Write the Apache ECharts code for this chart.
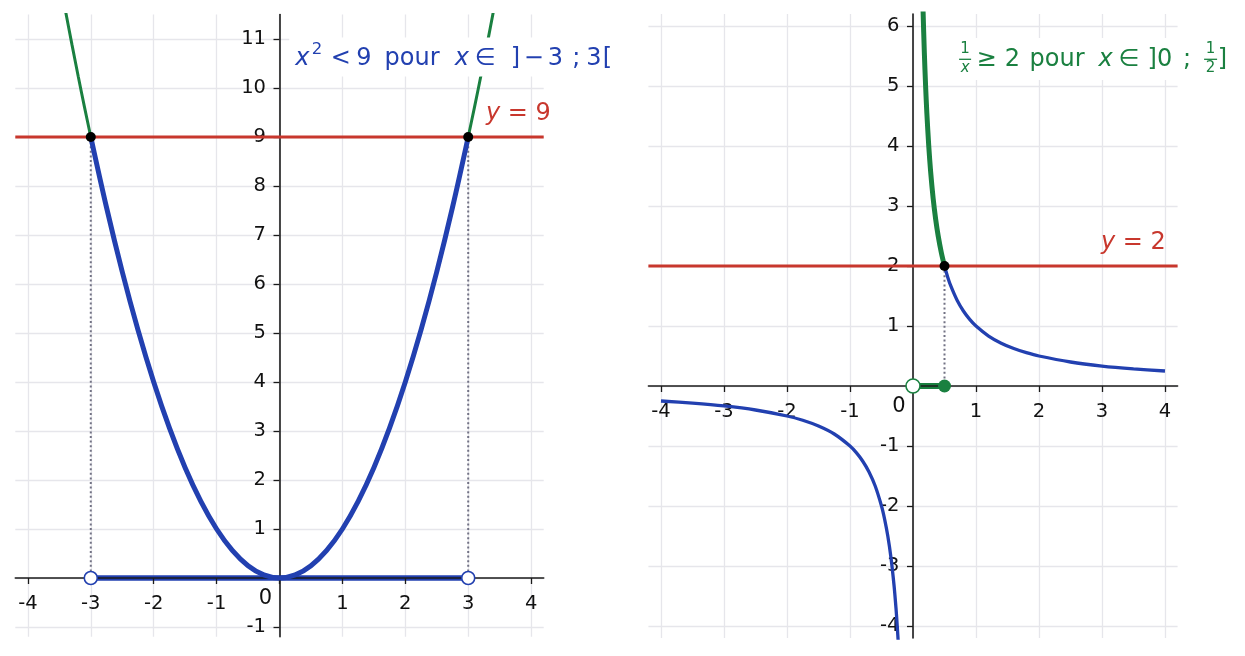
<!DOCTYPE html>
<html><head><meta charset="utf-8">
<script src="https://cdn.jsdelivr.net/npm/echarts@6/dist/echarts.min.js"></script>
<style>html,body{margin:0;padding:0;background:#fff}#c{width:1245px;height:656px}</style>
</head><body><div id="c"></div>
<script>
// ---------- data ----------
const leftXRange = [-4.2, 4.2];
const leftYRange = [-1.2, 11.5];
const rightXRange = [-4.2, 4.2];
const rightYRange = [-4.2, 6.2];

const leftXTicks = [-4, -3, -2, -1, 0, 1, 2, 3, 4];
const leftXLabels = [-4, -3, -2, -1, 1, 2, 3, 4];
const leftYTicks = [-1, 0, 1, 2, 3, 4, 5, 6, 7, 8, 9, 10, 11];
const leftYLabels = [-1, 1, 2, 3, 4, 5, 6, 7, 8, 9, 10, 11];
const rightXTicks = [-4, -3, -2, -1, 0, 1, 2, 3, 4];
const rightXLabels = [-4, -3, -2, -1, 1, 2, 3, 4];
const rightYTicks = [-4, -3, -2, -1, 0, 1, 2, 3, 4, 5, 6];
const rightYLabels = [-4, -3, -2, -1, 1, 2, 3, 4, 5, 6];

// left panel: y = x^2
const squareInX = [-3, -2.75, -2.5, -2.25, -2, -1.75, -1.5, -1.25, -1, -0.75, -0.5, -0.25, 0, 0.25, 0.5, 0.75, 1, 1.25, 1.5, 1.75, 2, 2.25, 2.5, 2.75, 3];
const squareInY = [9, 7.5625, 6.25, 5.0625, 4, 3.0625, 2.25, 1.5625, 1, 0.5625, 0.25, 0.0625, 0, 0.0625, 0.25, 0.5625, 1, 1.5625, 2.25, 3.0625, 4, 5.0625, 6.25, 7.5625, 9];
const squareOutLeftX = [-3.45, -3.4, -3.3, -3.2, -3.1, -3];
const squareOutLeftY = [11.9, 11.56, 10.89, 10.24, 9.61, 9];
const squareOutRightX = [3, 3.1, 3.2, 3.3, 3.4, 3.45];
const squareOutRightY = [9, 9.61, 10.24, 10.89, 11.56, 11.9];
const levelLeft = 9;
const boundsLeft = [-3, 3];

// right panel: y = 1/x
const invInX = [0.15, 0.16, 0.18, 0.2, 0.22, 0.25, 0.28, 0.32, 0.36, 0.4, 0.45, 0.5];
const invInY = [6.667, 6.25, 5.556, 5, 4.545, 4, 3.571, 3.125, 2.778, 2.5, 2.222, 2];
const invPosX = [0.5, 0.55, 0.6, 0.7, 0.8, 0.9, 1, 1.2, 1.4, 1.6, 1.8, 2, 2.5, 3, 3.5, 4];
const invPosY = [2, 1.818, 1.667, 1.429, 1.25, 1.111, 1, 0.833, 0.714, 0.625, 0.556, 0.5, 0.4, 0.333, 0.286, 0.25];
const invNegX = [-4, -3.5, -3, -2.5, -2, -1.75, -1.5, -1.25, -1, -0.9, -0.8, -0.7, -0.6, -0.5, -0.45, -0.4, -0.35, -0.3, -0.27, -0.25, -0.23];
const invNegY = [-0.25, -0.286, -0.333, -0.4, -0.5, -0.571, -0.667, -0.8, -1, -1.111, -1.25, -1.429, -1.667, -2, -2.222, -2.5, -2.857, -3.333, -3.704, -4, -4.348];
const levelRight = 2;
const boundsRight = [0, 0.5];

// ---------- styles / layout ----------
const BLUE = '#2240b0', GREEN = '#1a8040', RED = '#c8372d', DOTC = '#727284';
const GRIDC = '#e6e6eb', AXC = '#1b1b1b', FONT = 'DejaVu Sans';
const TICKFS = 19.5, ANNFS = 24;
const grids = [
  { left: 15.3, top: 14.5, width: 528.4, height: 622.3 },
  { left: 648.4, top: 14, width: 529.2, height: 624 }
];

const zip = (xs, ys) => xs.map((x, i) => [x, ys[i]]);

// axis placed through the origin by offsetting it from its grid edge
function axes(g, range, ticks, labels, pos, margin, offset) {
  return [
    { type: 'value', gridIndex: g, min: range[0], max: range[1], position: pos, offset: offset, z: 2,
      axisLine: { show: true, onZero: false, lineStyle: { color: AXC, width: 1.6 } },
      axisTick: { show: true, inside: false, length: 6, customValues: ticks, lineStyle: { color: AXC, width: 1.3 } },
      axisLabel: { show: true, customValues: labels, margin: margin, fontSize: TICKFS, fontFamily: FONT, color: '#111', hideOverlap: false },
      splitLine: { show: false } },
    { type: 'value', gridIndex: g, min: range[0], max: range[1], z: 0,
      axisLine: { show: false, onZero: false },
      axisTick: { show: false, customValues: ticks },
      axisLabel: { show: false },
      splitLine: { show: true, lineStyle: { color: GRIDC, width: 1.3 } } }
  ];
}
const zeroOffX = (yr, gr) => -((0 - yr[0]) / (yr[1] - yr[0]) * gr.height);
const zeroOffY = (xr, gr) => -((0 - xr[0]) / (xr[1] - xr[0]) * gr.width);

function lineS(g, data, color, width, extra) {
  return Object.assign({
    type: 'line', xAxisIndex: 2 * g, yAxisIndex: 2 * g, data: data,
    showSymbol: false, symbol: 'none', silent: true, animation: false, z: 3,
    lineStyle: { color: color, width: width, cap: 'butt' }, clip: true
  }, extra || {});
}
function dotS(g, data, fill, stroke, size, bw) {
  return {
    type: 'scatter', xAxisIndex: 2 * g, yAxisIndex: 2 * g, data: data, symbol: 'circle',
    symbolSize: size, silent: true, animation: false, z: 10, clip: false,
    itemStyle: { color: fill, borderColor: stroke, borderWidth: bw, opacity: 1 }
  };
}
const dotted = { color: DOTC, width: 2, type: [2, 2.6] };

const series = [
  // left panel
  lineS(0, [[leftXRange[0], levelLeft], [leftXRange[1], levelLeft]], RED, 2.8),
  lineS(0, [[boundsLeft[0], levelLeft], [boundsLeft[0], 0]], DOTC, 2, { lineStyle: dotted }),
  lineS(0, [[boundsLeft[1], levelLeft], [boundsLeft[1], 0]], DOTC, 2, { lineStyle: dotted }),
  lineS(0, zip(squareOutLeftX, squareOutLeftY), GREEN, 3, { smooth: 0.3 }),
  lineS(0, zip(squareOutRightX, squareOutRightY), GREEN, 3, { smooth: 0.3 }),
  lineS(0, zip(squareInX, squareInY), BLUE, 5, { smooth: 0.35 }),
  lineS(0, [[boundsLeft[0], 0], [boundsLeft[1], 0]], BLUE, 5.5, { z: 1 }),
  dotS(0, [[boundsLeft[0], levelLeft], [boundsLeft[1], levelLeft]], '#000', '#000', 10, 0),
  dotS(0, [[boundsLeft[0], 0], [boundsLeft[1], 0]], '#fff', BLUE, 13, 1.6),
  // right panel
  lineS(1, [[rightXRange[0], levelRight], [rightXRange[1], levelRight]], RED, 2.8),
  lineS(1, [[boundsRight[1], levelRight], [boundsRight[1], 0]], DOTC, 2, { lineStyle: dotted }),
  lineS(1, zip(invNegX, invNegY), BLUE, 3.3, { smooth: 0.3 }),
  lineS(1, zip(invPosX, invPosY), BLUE, 3.3, { smooth: 0.3 }),
  lineS(1, zip(invInX, invInY), GREEN, 5, { smooth: 0.3 }),
  lineS(1, [[boundsRight[0], 0], [boundsRight[1], 0]], GREEN, 6, { z: 1 }),
  dotS(1, [[boundsRight[1], levelRight]], '#000', '#000', 10, 0),
  dotS(1, [[boundsRight[0], 0]], '#fff', GREEN, 14, 1.6),
  dotS(1, [[boundsRight[1], 0]], GREEN, GREEN, 13, 0)
];

const chart = echarts.init(document.getElementById('c'), null, { renderer: 'canvas' });
chart.setOption({
  animation: false,
  backgroundColor: '#fff',
  grid: grids.map(gr => Object.assign({ containLabel: false, outerBoundsMode: 'none' }, gr)),
  xAxis: axes(0, leftXRange, leftXTicks, leftXLabels, 'bottom', 15.5, zeroOffX(leftYRange, grids[0]))
    .concat(axes(1, rightXRange, rightXTicks, rightXLabels, 'bottom', 15.5, zeroOffX(rightYRange, grids[1]))),
  yAxis: axes(0, leftYRange, leftYTicks, leftYLabels, 'left', 13.5, zeroOffY(leftXRange, grids[0]))
    .concat(axes(1, rightYRange, rightYTicks, rightYLabels, 'left', 13.5, zeroOffY(rightXRange, grids[1]))),
  series: series
});

// ---------- annotations ----------
const px = (g, p) => chart.convertToPixel({ gridIndex: g }, p);
const font = (size, it) => (it ? 'italic ' : '') + size + 'px "' + FONT + '"';
function T(x, y, text, color, size, it, align) {
  return { type: 'text', x: x, y: y, z: 21, silent: true,
    style: { text: text, fill: color, font: font(size, it), align: align || 'left', verticalAlign: 'middle' } };
}
function R(x, y, w, h) {
  return { type: 'rect', z: 20, silent: true, shape: { x: x, y: y, width: w, height: h }, style: { fill: '#fff' } };
}
function L(x1, y1, x2, y2, color) {
  return { type: 'line', z: 21, silent: true, shape: { x1: x1, y1: y1, x2: x2, y2: y2 }, style: { stroke: color, lineWidth: 1.3 } };
}

const g = [];
const o0 = px(0, [0, 0]), o1 = px(1, [0, 0]);
g.push(T(o0[0] - 14, o0[1] + 20.5, '0', '#111', 21, false, 'center'));
g.push(T(o1[0] - 14, o1[1] + 20.5, '0', '#111', 21, false, 'center'));

// left annotation
const a = px(0, [0.25, 10.6]);
g.push(R(a[0] - 6, a[1] - 21, 331, 39));
const lp = [
  [0, 0, 'x', ANNFS, true], [16.5, -8.5, '2', 16.5, false], [35.4, 0, '<', ANNFS, false], [61, 0, '9', ANNFS, false],
  [89.3, 0, 'pour', ANNFS, false], [159.5, 0, 'x', ANNFS, true], [179.5, 0, '∈', ANNFS, false], [215.4, 0, ']', ANNFS, false],
  [228.5, 0, '−', ANNFS, false], [252.5, 0, '3', ANNFS, false], [277, 0, ';', ANNFS, false], [291, 0, '3', ANNFS, false],
  [307.5, 0, '[', ANNFS, false]
];
lp.forEach(p => g.push(T(a[0] + p[0], a[1] + p[1], p[2], BLUE, p[3], p[4])));

// right annotation
const b = px(1, [0.7, 5.44]);
g.push(R(b[0] - 6, b[1] - 21.6, 282, 42));
g.push(T(b[0] + 8, b[1] - 10, '1', GREEN, 15, false, 'center'));
g.push(L(b[0] + 2, b[1] - 0.3, b[0] + 14, b[1] - 0.3, GREEN));
g.push(T(b[0] + 8, b[1] + 8.1, 'x', GREEN, 15, true, 'center'));
const rp = [
  [19.5, '≥', false], [47.7, '2', false], [72.4, 'pour', false], [141.5, 'x', true],
  [161.5, '∈', false], [190.5, ']0', false], [226, ';', false], [260.7, ']', false]
];
rp.forEach(p => g.push(T(b[0] + p[0], b[1], p[1], GREEN, ANNFS, p[2])));
g.push(T(b[0] + 253.4, b[1] - 10, '1', GREEN, 15, false, 'center'));
g.push(L(b[0] + 247, b[1] - 0.3, b[0] + 260, b[1] - 0.3, GREEN));
g.push(T(b[0] + 253.4, b[1] + 9, '2', GREEN, 15, false, 'center'));

// level labels
const c9 = px(0, [3.283, 9.48]);
g.push({ type: 'text', x: c9[0], y: c9[1], z: 21, silent: true,
  style: { text: '{i|y} = 9', fill: RED, font: font(ANNFS, false), align: 'left', verticalAlign: 'middle',
    rich: { i: { fontStyle: 'italic', fontSize: ANNFS, fontFamily: FONT, fill: RED } } } });
const c2 = px(1, [2.984, 2.385]);
g.push({ type: 'text', x: c2[0], y: c2[1], z: 21, silent: true,
  style: { text: '{i|y} = 2', fill: RED, font: font(ANNFS, false), align: 'left', verticalAlign: 'middle',
    rich: { i: { fontStyle: 'italic', fontSize: ANNFS, fontFamily: FONT, fill: RED } } } });

chart.setOption({ graphic: { elements: g } });
</script></body></html>
